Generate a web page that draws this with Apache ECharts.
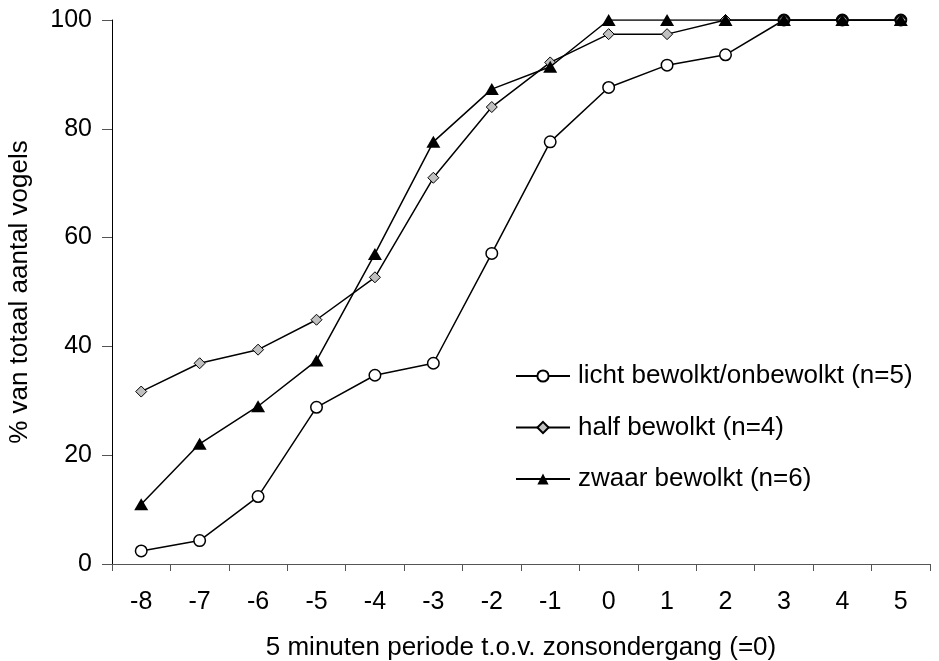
<!DOCTYPE html>
<html>
<head>
<meta charset="utf-8">
<script src="https://cdn.jsdelivr.net/npm/echarts@6/dist/echarts.min.js"></script>
<style>
html,body{margin:0;padding:0;background:#fff;}
#chart{width:939px;height:661px;}
</style>
</head>
<body>
<div id="chart"></div>
<script>
var categories = ['-8','-7','-6','-5','-4','-3','-2','-1','0','1','2','3','4','5'];
var licht = [2.4, 4.3, 12.4, 28.8, 34.7, 36.9, 57.1, 77.6, 87.6, 91.7, 93.6, 100, 100, 100];
var half  = [31.7, 36.9, 39.4, 44.9, 52.7, 71.0, 84.0, 92.2, 97.4, 97.4, 100, 100, 100, 100];
var zwaar = [11.0, 22.1, 29.0, 37.4, 57.0, 77.6, 87.3, 91.4, 100, 100, 100, 100, 100, 100];
var seriesNames = ['licht bewolkt/onbewolkt (n=5)', 'half bewolkt (n=4)', 'zwaar bewolkt (n=6)'];
var yTicks = [0, 20, 40, 60, 80, 100];
var xTitle = '5 minuten periode t.o.v. zonsondergang (=0)';
var yTitle = '% van totaal aantal vogels';

var FONT = 'Arial, "Liberation Sans", sans-serif';

// overlapping points where all series reach 100 appear dark in the reference
var lichtData = licht.map(function (v, i) {
  if (v === 100 && half[i] === 100 && zwaar[i] === 100) {
    return { value: v, itemStyle: { color: '#000' } };
  }
  return v;
});

var chart = echarts.init(document.getElementById('chart'), null, { renderer: 'canvas' });
chart.setOption({
  animation: false,
  backgroundColor: '#fff',
  textStyle: { fontFamily: FONT },
  grid: { left: 112, right: 9, top: 20, bottom: 97, containLabel: false, outerBoundsMode: 'none' },
  legend: {
    orient: 'vertical',
    left: 515,
    top: 363,
    padding: 0,
    itemWidth: 54,
    itemHeight: 14,
    itemGap: 25.5,
    data: seriesNames,
    textStyle: { fontSize: 26, color: '#000', fontFamily: FONT, padding: [0, 0, 0, 3] }
  },
  xAxis: {
    type: 'category',
    data: categories,
    boundaryGap: true,
    name: xTitle,
    nameLocation: 'middle',
    nameGap: 71,
    nameTextStyle: { fontSize: 26, color: '#000', fontFamily: FONT },
    axisLine: { lineStyle: { color: '#555', width: 1 } },
    axisTick: { show: true, length: 7, lineStyle: { color: '#555' } },
    axisLabel: { fontSize: 25, color: '#000', margin: 25.5, fontFamily: FONT, interval: 0 },
    splitLine: { show: false }
  },
  yAxis: {
    type: 'value',
    min: yTicks[0],
    max: yTicks[yTicks.length - 1],
    interval: yTicks[1] - yTicks[0],
    name: yTitle,
    nameLocation: 'middle',
    nameGap: 79,
    nameRotate: 90,
    nameTextStyle: { fontSize: 26, color: '#000', fontFamily: FONT },
    axisLine: { show: true, lineStyle: { color: '#000', width: 1 } },
    axisTick: { show: true, length: 10, lineStyle: { color: '#555' } },
    axisLabel: { fontSize: 25, color: '#000', margin: 20, fontFamily: FONT },
    splitLine: { show: false }
  },
  series: [
    {
      name: seriesNames[0],
      type: 'line',
      data: lichtData,
      symbol: 'circle',
      symbolSize: 11.5,
      lineStyle: { color: '#000', width: 1.5 },
      itemStyle: { color: '#fff', borderColor: '#000', borderWidth: 1.5 },
      z: 2
    },
    {
      name: seriesNames[1],
      type: 'line',
      data: half,
      symbol: 'diamond',
      symbolSize: 11,
      lineStyle: { color: '#000', width: 1.5 },
      itemStyle: { color: '#c0c0c0', borderColor: '#000', borderWidth: 1 },
      z: 3
    },
    {
      name: seriesNames[2],
      type: 'line',
      data: zwaar,
      symbol: 'triangle',
      symbolSize: [14, 12],
      lineStyle: { color: '#000', width: 1.5 },
      itemStyle: { color: '#000', borderColor: '#000', borderWidth: 0 },
      z: 4
    }
  ]
});
</script>
</body>
</html>
